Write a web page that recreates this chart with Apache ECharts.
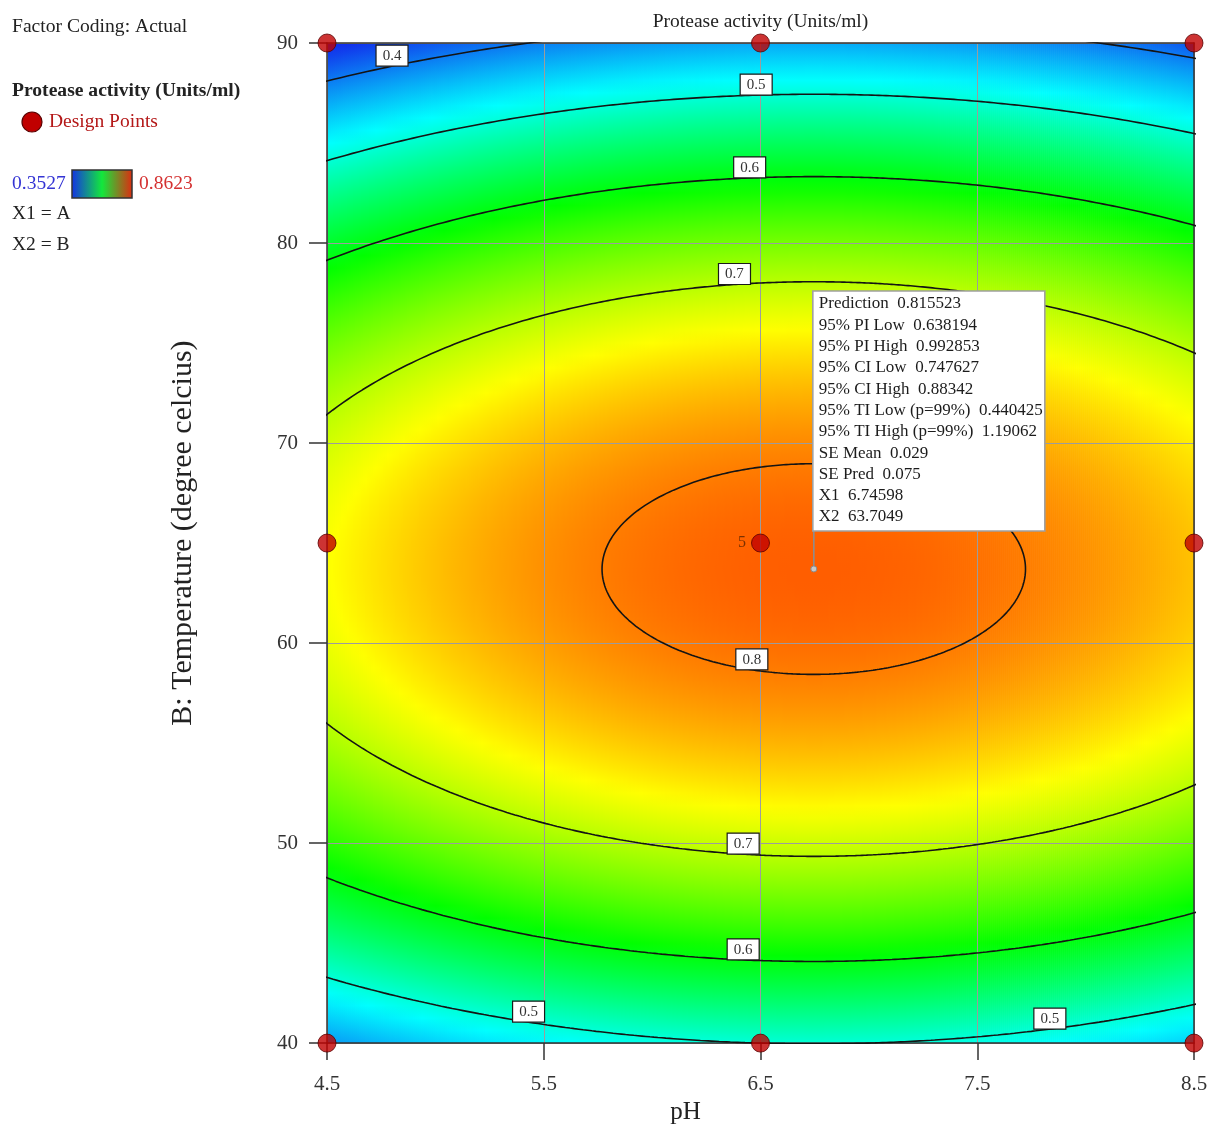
<!DOCTYPE html>
<html>
<head>
<meta charset="utf-8">
<title>Protease activity (Units/ml)</title>
<script src="https://cdn.jsdelivr.net/npm/echarts@6/dist/echarts.min.js"></script>
<style>
  html, body { margin: 0; padding: 0; background: #ffffff; }
  #chart { width: 1224px; height: 1130px; }
</style>
</head>
<body>
<div id="chart"></div>
<script>
// ---- Factor ranges (actual units) and axis ticks ----
const phRange = [4.5, 8.5];
const tempRange = [40, 90];
const phTickStep = 1;
const tempTickStep = 10;

// ---- Fitted quadratic model, coded factors A = pH, B = Temperature ----
// Y = b0 + bA*A + bB*B + bAB*A*B + bAA*A^2 + bBB*B^2
const modelTerms = ['Intercept', 'A', 'B', 'AB', 'A²', 'B²'];
const modelCoefs = [0.8136, 0.0160, -0.0364, 0.0, -0.0651, -0.350];

// ---- Design points (3 x 3 factorial, centre replicated) ----
const designPH = [4.5, 6.5, 8.5, 4.5, 6.5, 8.5, 4.5, 6.5, 8.5];
const designTemp = [40, 40, 40, 65, 65, 65, 90, 90, 90];
const designReps = [1, 1, 1, 1, 5, 1, 1, 1, 1];

// ---- Contour levels and colour-scale limits ----
const contourLevels = [0.4, 0.5, 0.6, 0.7, 0.8];
const responseRange = [0.3527, 0.8623];

// ---- Where each contour label sits: [level, pH, branch] ----
const contourLabelSpots = [
  [0.4, 4.80, 'upper'],
  [0.5, 6.48, 'upper'],
  [0.6, 6.45, 'upper'],
  [0.7, 6.38, 'upper'],
  [0.8, 6.46, 'lower'],
  [0.7, 6.42, 'lower'],
  [0.6, 6.42, 'lower'],
  [0.5, 5.43, 'lower'],
  [0.5, 7.835, 'lower']
];

// ---- Prediction flag ----
const flagPoint = [6.74598, 63.7049];
const flagLines = [
  'Prediction  0.815523',
  '95% PI Low  0.638194',
  '95% PI High  0.992853',
  '95% CI Low  0.747627',
  '95% CI High  0.88342',
  '95% TI Low (p=99%)  0.440425',
  '95% TI High (p=99%)  1.19062',
  'SE Mean  0.029',
  'SE Pred  0.075',
  'X1  6.74598',
  'X2  63.7049'
];

// ---- Layout ----
const GRID = { left: 327, top: 43, right: 30, bottom: 80 };
const SERIF = "'Liberation Serif', 'Times New Roman', serif";
const TEXT = '#222222';

// ---- Model helpers ----
const phMid = (phRange[0] + phRange[1]) / 2, phHalf = (phRange[1] - phRange[0]) / 2;
const tMid = (tempRange[0] + tempRange[1]) / 2, tHalf = (tempRange[1] - tempRange[0]) / 2;
const [b0, bA, bB, bAB, bAA, bBB] = modelCoefs;

function predictCoded(A, B) {
  return b0 + bA * A + bB * B + bAB * A * B + bAA * A * A + bBB * B * B;
}
function predict(ph, t) {
  return predictCoded((ph - phMid) / phHalf, (t - tMid) / tHalf);
}
function toActual(A, B) {
  return [phMid + A * phHalf, tMid + B * tHalf];
}

// stationary point of the quadratic (coded units)
const det = 4 * bAA * bBB - bAB * bAB;
const A0 = (-bA * 2 * bBB + bB * bAB) / det;
const B0 = (-bB * 2 * bAA + bA * bAB) / det;

// contour of one level, traced along rays from the stationary point
function contourRing(level) {
  const pts = [];
  const n = 720;
  for (let i = 0; i <= n; i++) {
    const th = (i / n) * Math.PI * 2;
    const c = Math.cos(th), s = Math.sin(th);
    let lo = 0, hi = 5;
    for (let k = 0; k < 48; k++) {
      const mid = (lo + hi) / 2;
      if (predictCoded(A0 + mid * c, B0 + mid * s) > level) lo = mid; else hi = mid;
    }
    pts.push(toActual(A0 + lo * c, B0 + lo * s));
  }
  return pts;
}

// temperature on a given branch where the model equals the level at fixed pH
function branchTemp(level, ph, branch) {
  const A = (ph - phMid) / phHalf;
  const dir = branch === 'upper' ? 1 : -1;
  let lo = 0, hi = 5;
  for (let k = 0; k < 48; k++) {
    const mid = (lo + hi) / 2;
    if (predictCoded(A, B0 + dir * mid) > level) lo = mid; else hi = mid;
  }
  return toActual(A, B0 + dir * lo)[1];
}

// rainbow colour ramp over the response range
const rampColors = [[18, 44, 235], [0, 255, 255], [0, 255, 0], [255, 255, 0], [255, 0, 0]];
function ramp(v) {
  let f = (v - responseRange[0]) / (responseRange[1] - responseRange[0]);
  f = Math.max(0, Math.min(1, f));
  const seg = f * (rampColors.length - 1);
  const i = Math.min(rampColors.length - 2, Math.floor(seg));
  const u = seg - i;
  const a = rampColors[i], b = rampColors[i + 1];
  const r = Math.round(a[0] + (b[0] - a[0]) * u);
  const g = Math.round(a[1] + (b[1] - a[1]) * u);
  const bl = Math.round(a[2] + (b[2] - a[2]) * u);
  return 'rgb(' + r + ',' + g + ',' + bl + ')';
}

// ---- Field columns (each a vertical gradient strip) ----
const nCols = 434, nRows = 80;
const fieldCols = [];
for (let i = 0; i < nCols; i++) {
  const x0 = phRange[0] + (phRange[1] - phRange[0]) * i / nCols;
  const x1 = phRange[0] + (phRange[1] - phRange[0]) * (i + 1) / nCols;
  fieldCols.push([x0, x1, tMid]);
}

function renderField(params, api) {
  const x0 = api.value(0), x1 = api.value(1);
  const p0 = api.coord([x0, tempRange[1]]);
  const p1 = api.coord([x1, tempRange[0]]);
  const xm = (x0 + x1) / 2;
  const stops = [];
  for (let j = 0; j <= nRows; j++) {
    const t = tempRange[1] - (tempRange[1] - tempRange[0]) * j / nRows;
    stops.push({ offset: j / nRows, color: ramp(predict(xm, t)) });
  }
  return {
    type: 'rect',
    shape: { x: p0[0], y: p0[1], width: p1[0] - p0[0] + 0.7, height: p1[1] - p0[1] },
    style: { fill: new echarts.graphic.LinearGradient(0, 0, 0, 1, stops) },
    silent: true
  };
}

// ---- Contour series ----
const contourSeries = contourLevels.map(function (level) {
  return {
    type: 'line',
    name: 'contour ' + level,
    data: contourRing(level),
    showSymbol: false,
    symbol: 'none',
    clip: true,
    silent: true,
    z: 4,
    lineStyle: { color: '#141414', width: 1.6 }
  };
});

const labelData = contourLabelSpots.map(function (s) {
  return [s[1], branchTemp(s[0], s[1], s[2]), s[0]];
});

function renderContourLabel(params, api) {
  const p = api.coord([api.value(0), api.value(1)]);
  const w = 32, h = 21;
  return {
    type: 'group',
    children: [
      { type: 'rect', shape: { x: p[0] - w / 2, y: p[1] - h, width: w, height: h },
        style: { fill: '#ffffff', stroke: '#1a1a1a', lineWidth: 1.2 } },
      { type: 'text', x: p[0], y: p[1] - h / 2 + 0.5,
        style: { text: api.value(2).toFixed(1), fill: '#333333', font: '15px ' + SERIF,
                 align: 'center', verticalAlign: 'middle' } }
    ]
  };
}

function renderFlag(params, api) {
  const p = api.coord([api.value(0), api.value(1)]);
  const boxW = 232, boxH = 240, lift = 38;
  const top = p[1] - lift - boxH;
  const children = [
    { type: 'line', shape: { x1: p[0], y1: p[1], x2: p[0], y2: p[1] - lift },
      style: { stroke: '#8e8e8e', lineWidth: 1.6 } },
    { type: 'circle', shape: { cx: p[0], cy: p[1], r: 3 },
      style: { fill: '#c8c8c8', stroke: '#8a8a8a', lineWidth: 1 } },
    { type: 'rect', shape: { x: p[0] - 1, y: top, width: boxW, height: boxH },
      style: { fill: '#ffffff', stroke: '#a0a0a0', lineWidth: 1.6 } }
  ];
  flagLines.forEach(function (line, i) {
    children.push({ type: 'text', x: p[0] + 5, y: top + 13 + i * 21.3,
      style: { text: line, fill: '#1c1c1c', font: '17px ' + SERIF, align: 'left', verticalAlign: 'middle' } });
  });
  return { type: 'group', children: children };
}

// ---- Design points ----
const designData = designPH.map(function (x, i) {
  const item = { value: [x, designTemp[i], designReps[i]] };
  if (designReps[i] > 1) {
    item.label = { show: true, formatter: String(designReps[i]), position: 'left', distance: 5,
                   color: '#5a2400', fontSize: 16, fontFamily: SERIF };
  }
  return item;
});

// ---- Chart ----
const chart = echarts.init(document.getElementById('chart'), null, { renderer: 'canvas' });
const plotW = 1224 - GRID.left - GRID.right;
const axisLineStyle = { color: '#333333', width: 1.5 };
const gridLineStyle = { color: '#9c9c9c', width: 1 };

chart.setOption({
  animation: false,
  backgroundColor: '#ffffff',
  grid: { left: GRID.left, top: GRID.top, right: GRID.right, bottom: GRID.bottom, containLabel: false },
  xAxis: [
    {
      type: 'value', min: phRange[0], max: phRange[1], interval: phTickStep, position: 'bottom', z: 3,
      name: 'pH', nameLocation: 'middle', nameGap: 52,
      nameTextStyle: { fontFamily: SERIF, fontSize: 25, color: TEXT, padding: [0, 150, 0, 0] },
      axisLine: { show: true, onZero: false, lineStyle: axisLineStyle },
      axisTick: { show: true, inside: false, length: 17, lineStyle: axisLineStyle },
      axisLabel: { margin: 31, fontFamily: SERIF, fontSize: 21, color: '#333333' },
      splitLine: { show: true, lineStyle: gridLineStyle }
    },
    {
      type: 'value', min: phRange[0], max: phRange[1], position: 'top', z: 3,
      axisLine: { show: true, onZero: false, lineStyle: axisLineStyle },
      axisTick: { show: false }, axisLabel: { show: false }, splitLine: { show: false }
    }
  ],
  yAxis: [
    {
      type: 'value', min: tempRange[0], max: tempRange[1], interval: tempTickStep, position: 'left', z: 3,
      name: 'B: Temperature (degree celcius)', nameLocation: 'middle', nameGap: 129,
      nameTextStyle: { fontFamily: SERIF, fontSize: 30, color: TEXT, padding: [0, 0, 0, 20] },
      axisLine: { show: true, onZero: false, lineStyle: axisLineStyle },
      axisTick: { show: true, inside: false, length: 18, lineStyle: axisLineStyle },
      axisLabel: { margin: 29, fontFamily: SERIF, fontSize: 21, color: '#333333' },
      splitLine: { show: true, lineStyle: gridLineStyle }
    },
    {
      type: 'value', min: tempRange[0], max: tempRange[1], position: 'right', z: 3,
      axisLine: { show: true, onZero: false, lineStyle: axisLineStyle },
      axisTick: { show: false }, axisLabel: { show: false }, splitLine: { show: false }
    }
  ],
  graphic: [
    { type: 'text', x: GRID.left + plotW / 2, y: 22, z: 10,
      style: { text: 'Protease activity (Units/ml)', font: '19.5px ' + SERIF, fill: TEXT, align: 'center', verticalAlign: 'middle' } },
    { type: 'text', x: 12, y: 27, z: 10,
      style: { text: 'Factor Coding: Actual', font: '19.6px ' + SERIF, fill: TEXT, verticalAlign: 'middle' } },
    { type: 'text', x: 12, y: 91, z: 10,
      style: { text: 'Protease activity (Units/ml)', font: 'bold 19.6px ' + SERIF, fill: TEXT, verticalAlign: 'middle' } },
    { type: 'circle', shape: { cx: 32, cy: 122, r: 10 }, z: 10,
      style: { fill: '#c00000', stroke: '#5a0000', lineWidth: 1.2 } },
    { type: 'text', x: 49, y: 122, z: 10,
      style: { text: 'Design Points', font: '19.5px ' + SERIF, fill: '#b41818', verticalAlign: 'middle' } },
    { type: 'text', x: 12, y: 184, z: 10,
      style: { text: responseRange[0].toFixed(4), font: '19.5px ' + SERIF, fill: '#3434d4', verticalAlign: 'middle' } },
    { type: 'rect', shape: { x: 72, y: 170, width: 60, height: 28 }, z: 10,
      style: { fill: new echarts.graphic.LinearGradient(0, 0, 1, 0, [
        { offset: 0, color: '#1530e6' }, { offset: 0.5, color: '#12e83c' }, { offset: 1, color: '#e02a10' }
      ]), stroke: '#333333', lineWidth: 1.5 } },
    { type: 'text', x: 139, y: 184, z: 10,
      style: { text: responseRange[1].toFixed(4), font: '19.5px ' + SERIF, fill: '#d43030', verticalAlign: 'middle' } },
    { type: 'text', x: 12, y: 214, z: 10,
      style: { text: 'X1 = A', font: '19.5px ' + SERIF, fill: TEXT, verticalAlign: 'middle' } },
    { type: 'text', x: 12, y: 245, z: 10,
      style: { text: 'X2 = B', font: '19.5px ' + SERIF, fill: TEXT, verticalAlign: 'middle' } }
  ],
  series: [
    {
      type: 'custom', name: 'field', data: fieldCols, renderItem: renderField,
      encode: { x: [0, 1], y: 2 }, clip: true, silent: true, z: 1
    }
  ].concat(contourSeries).concat([
    {
      type: 'custom', name: 'contour labels', data: labelData, renderItem: renderContourLabel,
      encode: { x: 0, y: 1 }, clip: false, silent: true, z: 5
    },
    {
      type: 'scatter', name: 'Design Points', data: designData, symbol: 'circle', symbolSize: 18,
      clip: false, silent: true, z: 6,
      itemStyle: { color: '#c00000', borderColor: '#5a0000', borderWidth: 1 }
    },
    {
      type: 'custom', name: 'prediction', data: [flagPoint], renderItem: renderFlag,
      encode: { x: 0, y: 1 }, clip: false, silent: true, z: 7
    }
  ])
});
</script>
</body>
</html>
